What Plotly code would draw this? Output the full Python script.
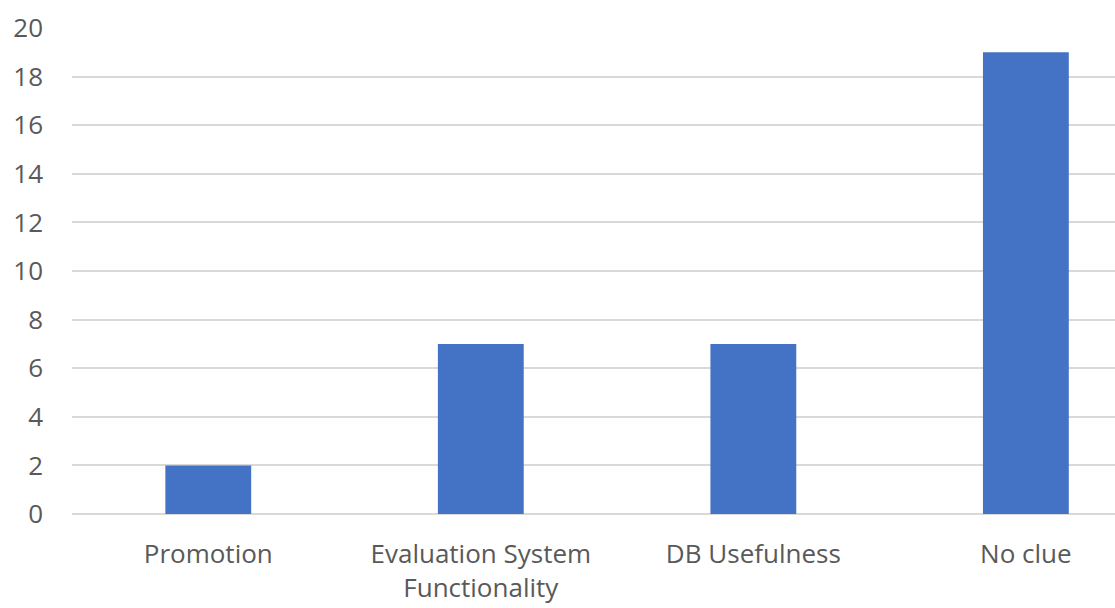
import plotly.graph_objects as go

# Survey responses per topic
categories = ["Promotion", "Evaluation System<br>Functionality", "DB Usefulness", "No clue"]
counts = [2, 7, 7, 19]
y_ticks = [0, 2, 4, 6, 8, 10, 12, 14, 16, 18, 20]

text_color = "#595959"
grid_color = "#d9d9d9"
bar_color = "#4472C4"
font_family = "Open Sans, Liberation Sans, sans-serif"

fig = go.Figure(
    go.Bar(
        x=list(range(len(categories))),
        y=counts,
        width=0.315,
        marker=dict(color=bar_color, line=dict(width=0)),
        hoverinfo="x+y",
    )
)

fig.update_layout(
    width=1115,
    height=608,
    margin=dict(l=72, r=0, t=28, b=94),
    paper_bgcolor="white",
    plot_bgcolor="white",
    showlegend=False,
    font=dict(family=font_family, size=26, color=text_color),
)

fig.update_xaxes(
    tickmode="array",
    tickvals=list(range(len(categories))),
    ticktext=categories,
    range=[-0.5, 3.327],
    showgrid=False,
    zeroline=False,
    showline=False,
    ticks="",
    ticklabelstandoff=22,
    tickfont=dict(family=font_family, size=26, color=text_color),
)

fig.update_yaxes(
    range=[0, 20],
    tickvals=y_ticks,
    showgrid=True,
    gridcolor=grid_color,
    gridwidth=1.5,
    zeroline=True,
    zerolinecolor=grid_color,
    zerolinewidth=1.5,
    showline=False,
    ticks="",
    ticklabelstandoff=28,
    tickfont=dict(family=font_family, size=26, color=text_color),
)

fig.write_html("out.html")
